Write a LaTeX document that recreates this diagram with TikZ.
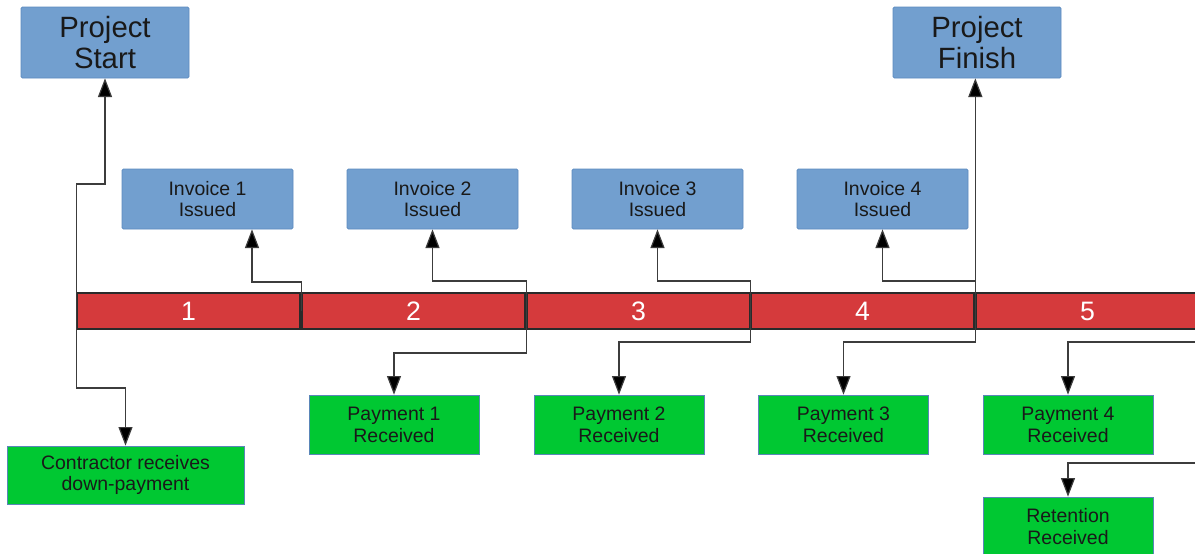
\documentclass[tikz,border=0pt]{standalone}
\usepackage{fontspec}
\setmainfont{Liberation Sans}
\usetikzlibrary{arrows.meta,calc}

\definecolor{boxblue}{HTML}{729FCF}
\definecolor{boxedge}{HTML}{5C8BC0}
\definecolor{boxgreen}{HTML}{00C832}
\definecolor{greenedge}{HTML}{5A86B8}
\definecolor{barred}{HTML}{D53A3C}
\definecolor{baredge}{HTML}{2A2A2A}
\definecolor{wire}{HTML}{3C3C3C}

\tikzset{
  milestone/.style={rectangle, fill=boxblue, draw=boxedge, line width=0.5pt,
    rounded corners=1pt, minimum width=168*0.75pt, minimum height=71*0.75pt,
    inner sep=0pt, align=center, text=black!90,
    font=\fontsize{22}{23.5}\selectfont},
  invoice/.style={rectangle, fill=boxblue, draw=boxedge, line width=0.5pt,
    rounded corners=1pt, minimum width=171*0.75pt, minimum height=60*0.75pt,
    inner sep=0pt, align=center, text=black!90,
    font=\fontsize{14.6}{16.4}\selectfont},
  payment/.style={rectangle, fill=boxgreen, draw=greenedge, line width=0.5pt,
    minimum width=170*0.75pt, minimum height=59*0.75pt,
    inner sep=0pt, align=center, text=black!90,
    font=\fontsize{14.6}{16.4}\selectfont},
  segment/.style={rectangle, fill=barred, draw=baredge, line width=1pt,
    minimum width=223*0.75pt, minimum height=36*0.75pt, inner sep=0pt,
    text=white, font=\fontsize{20}{22}\selectfont},
  conn/.style={draw=wire, line width=0.9pt,
    -{Triangle[length=14pt,width=10.5pt,fill=black]}},
}

\begin{document}
\begin{tikzpicture}[x=0.75pt, y=-0.75pt]
  \fill[white] (0,0) rectangle (1195,553);
  \useasboundingbox (0,0) rectangle (1195,553);
  \clip (0,0) rectangle (1195,553);

  % milestones
  \node[milestone] (ps) at (105,42.5) {Project\\Start};
  \node[milestone] (pf) at (977,42.5) {Project\\Finish};

  % invoices
  \node[invoice] (i1) at (207.5,199) {Invoice 1\\Issued};
  \node[invoice] (i2) at (432.5,199) {Invoice 2\\Issued};
  \node[invoice] (i3) at (657.5,199) {Invoice 3\\Issued};
  \node[invoice] (i4) at (882.5,199) {Invoice 4\\Issued};

  % timeline bar
  \node[segment] (s1) at (188.5,311) {1};
  \node[segment] (s2) at (413.5,311) {2};
  \node[segment] (s3) at (638.5,311) {3};
  \node[segment] (s4) at (862.5,311) {4};
  \node[segment] (s5) at (1087.5,311) {5};

  % payments
  \node[payment, minimum width=237*0.75pt, minimum height=58*0.75pt]
    (c) at (125.5,475) {Contractor receives\\down-payment};
  \node[payment] (p1) at (394,424.5) {Payment 1\\Received};
  \node[payment] (p2) at (619,424.5) {Payment 2\\Received};
  \node[payment] (p3) at (843.5,424.5) {Payment 3\\Received};
  \node[payment] (p4) at (1068,424.5) {Payment 4\\Received};
  \node[payment] (r)  at (1068,526.5) {Retention\\Received};

  % connectors
  \draw[conn] (s1.west) -- ++(0,-127) -| (ps.south);
  \draw[conn] (s1.west) -- ++(0,77) -| (c.north);

  \draw[conn] (s2.west) -- ++(0,-29) -| ($(i1.south)+(44.5,0)$);

  \draw[conn] (s3.west) -- ++(0,-30) -| (i2.south);
  \draw[conn] (s3.west) -- ++(0,42) -| (p1.north);

  \draw[conn] (s4.west) -- ++(0,-30) -| (i3.south);
  \draw[conn] (s4.west) -- ++(0,31) -| (p2.north);

  \draw[conn] (s5.west) -- ++(0,-30) -| (i4.south);
  \draw[conn] (s5.west) -- ++(0,31) -| (p3.north);
  \draw[conn] (s5.west) -- (s5.west |- pf.south);

  \draw[conn] (s5.east) -- ++(0,31) -| (p4.north);
  \draw[conn] (s5.east) -- ++(0,152) -| (r.north);
\end{tikzpicture}
\end{document}
